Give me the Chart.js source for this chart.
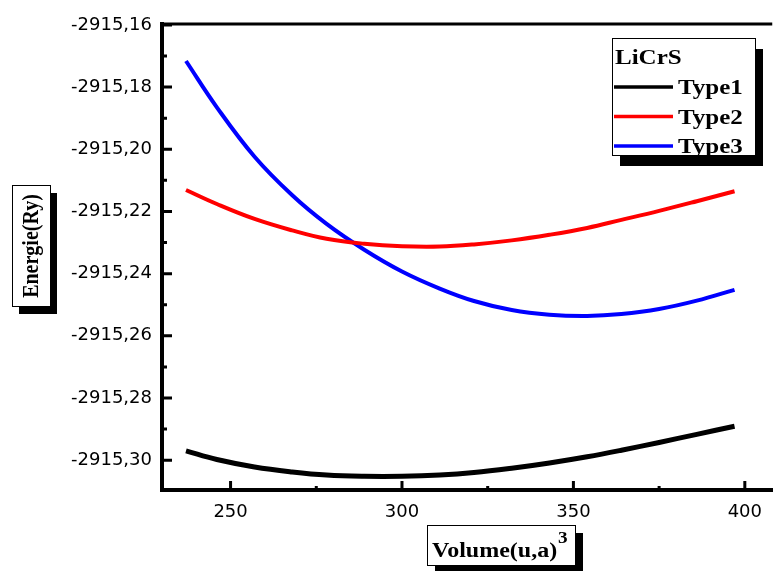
<!DOCTYPE html>
<html>
<head>
<meta charset="utf-8">
<script src="https://cdn.jsdelivr.net/npm/chart.js@4.4.1/dist/chart.umd.min.js"></script>
<style>
  html, body { margin: 0; padding: 0; background: #fff; }
  #wrap { width: 774px; height: 571px; }
</style>
</head>
<body>
<div id="wrap"><canvas id="chart" width="774" height="571"></canvas></div>
<script>
// LiCrS energy vs volume
const volume = [237, 246, 257, 268, 278, 289, 300, 311, 321, 332, 343, 354, 364, 375, 386, 397];
const type1 = [-2915.2970, -2915.2998, -2915.3022, -2915.3038, -2915.3048, -2915.3052, -2915.3052, -2915.3048,
               -2915.3040, -2915.3026, -2915.3009, -2915.2989, -2915.2968, -2915.2943, -2915.2917, -2915.2891];
const type2 = [-2915.2131, -2915.2176, -2915.2224, -2915.2261, -2915.2288, -2915.2304, -2915.2312, -2915.2313,
               -2915.2306, -2915.2293, -2915.2275, -2915.2253, -2915.2227, -2915.2198, -2915.2167, -2915.2135];
const type3 = [-2915.1716, -2915.1865, -2915.2024, -2915.2148, -2915.2240, -2915.2323, -2915.2393, -2915.2448,
               -2915.2488, -2915.2517, -2915.2532, -2915.2536, -2915.2530, -2915.2514, -2915.2487, -2915.2452];

const seriesNames = ["Type1", "Type2", "Type3"];
const seriesColors = ["#000000", "#ff0000", "#0000ff"];
const seriesValues = [type1, type2, type3];

const xTicks = [250, 300, 350, 400];
const yTicks = [-2915.30, -2915.28, -2915.26, -2915.24, -2915.22, -2915.20, -2915.18, -2915.16];

const serif = "'Liberation Serif', 'Times New Roman', serif";

function shadowBox(ctx, x, y, w, h, dx, dy) {
  ctx.fillStyle = "#000";
  ctx.fillRect(x + dx, y + dy, w, h);
  ctx.fillStyle = "#fff";
  ctx.fillRect(x, y, w, h);
  ctx.strokeStyle = "#000";
  ctx.lineWidth = 1;
  ctx.strokeRect(x + 0.5, y + 0.5, w, h);
}

// stretched serif text, like the old Origin export
function wideText(ctx, str, x, y, size, sx) {
  ctx.save();
  ctx.translate(x, y);
  ctx.scale(sx, 1);
  ctx.font = "bold " + size + "px " + serif;
  ctx.fillStyle = "#000";
  ctx.fillText(str, 0, 0);
  const w = ctx.measureText(str).width * sx;
  ctx.restore();
  return w;
}

const framePlugin = {
  id: "frame",
  afterDraw(chart) {
    const ctx = chart.ctx;
    const area = chart.chartArea;
    const xs = chart.scales.x;
    const ys = chart.scales.y;

    ctx.save();
    ctx.strokeStyle = "#000";
    ctx.lineWidth = 3;
    ctx.beginPath();
    ctx.moveTo(area.left - 1, area.top);
    ctx.lineTo(area.right, area.top);
    ctx.stroke();

    // inward ticks, majors and minors
    ctx.lineWidth = 3;
    ctx.beginPath();
    yTicks.forEach((v, i) => {
      const p = ys.getPixelForValue(v);
      ctx.moveTo(area.left, p);
      ctx.lineTo(area.left + 10, p);
      if (i < yTicks.length - 1) {
        const m = ys.getPixelForValue((v + yTicks[i + 1]) / 2);
        ctx.moveTo(area.left, m);
        ctx.lineTo(area.left + 5, m);
      }
    });
    xTicks.forEach((v, i) => {
      const p = xs.getPixelForValue(v);
      ctx.moveTo(p, area.bottom);
      ctx.lineTo(p, area.bottom - 9);
      if (i < xTicks.length - 1) {
        const m = xs.getPixelForValue((v + xTicks[i + 1]) / 2);
        ctx.moveTo(m, area.bottom);
        ctx.lineTo(m, area.bottom - 4);
      }
    });
    ctx.stroke();

    // legend
    shadowBox(ctx, 612, 38, 143, 117, 8, 11);
    ctx.textBaseline = "alphabetic";
    wideText(ctx, "LiCrS", 615, 64, 20, 1.25);
    seriesNames.forEach((name, i) => {
      const ly = 87 + i * 29.5;
      ctx.strokeStyle = seriesColors[i];
      ctx.lineWidth = 3.5;
      ctx.beginPath();
      ctx.moveTo(614, ly);
      ctx.lineTo(673, ly);
      ctx.stroke();
      wideText(ctx, name, 678, ly + 7, 20, 1.25);
    });

    // y title
    shadowBox(ctx, 12, 185, 38, 121, 7, 8);
    ctx.save();
    ctx.translate(38, 246);
    ctx.rotate(-Math.PI / 2);
    ctx.scale(1, 1.2);
    ctx.textAlign = "center";
    ctx.font = "bold 20px " + serif;
    ctx.fillStyle = "#000";
    ctx.fillText("Energie(Ry)", 0, 0);
    ctx.restore();

    // x title
    shadowBox(ctx, 427, 525, 148, 40, 8, 8);
    ctx.textAlign = "left";
    const w = wideText(ctx, "Volume(u,a)", 432, 557, 20, 1.2);
    wideText(ctx, "3", 432 + w + 1, 543, 16, 1.2);

    ctx.restore();
  }
};

const chart = new Chart(document.getElementById("chart"), {
  type: "line",
  plugins: [framePlugin],
  data: {
    datasets: seriesNames.map((name, i) => ({
      label: name,
      data: volume.map((v, j) => ({ x: v, y: seriesValues[i][j] })),
      borderColor: seriesColors[i],
      borderWidth: i === 0 ? 5 : 4,
      pointRadius: 0,
      fill: false,
      tension: 0.4
    }))
  },
  options: {
    responsive: false,
    animation: false,
    layout: { padding: { top: 24, left: 0, right: 0, bottom: 0 } },
    plugins: {
      legend: { display: false },
      tooltip: { enabled: false }
    },
    scales: {
      x: {
        type: "linear",
        min: 230,
        max: 408,
        afterFit: (s) => { s.height = 81; },
        afterBuildTicks: (s) => { s.ticks = xTicks.map((v) => ({ value: v })); },
        grid: { display: false, drawTicks: false },
        border: { display: true, color: "#000", width: 4 },
        ticks: {
          padding: 12,
          color: "#000",
          font: { family: "'DejaVu Sans', sans-serif", size: 18 },
          callback: (v) => String(v)
        }
      },
      y: {
        type: "linear",
        min: -2915.3096,
        max: -2915.1597,
        afterFit: (s) => { s.width = 162; },
        afterBuildTicks: (s) => { s.ticks = yTicks.map((v) => ({ value: v })); },
        grid: { display: false, drawTicks: false },
        border: { display: true, color: "#000", width: 4 },
        ticks: {
          padding: 10,
          color: "#000",
          font: { family: "'DejaVu Sans', sans-serif", size: 18 },
          callback: (v) => v.toFixed(2).replace(".", ",")
        }
      }
    }
  }
});
</script>
</body>
</html>
